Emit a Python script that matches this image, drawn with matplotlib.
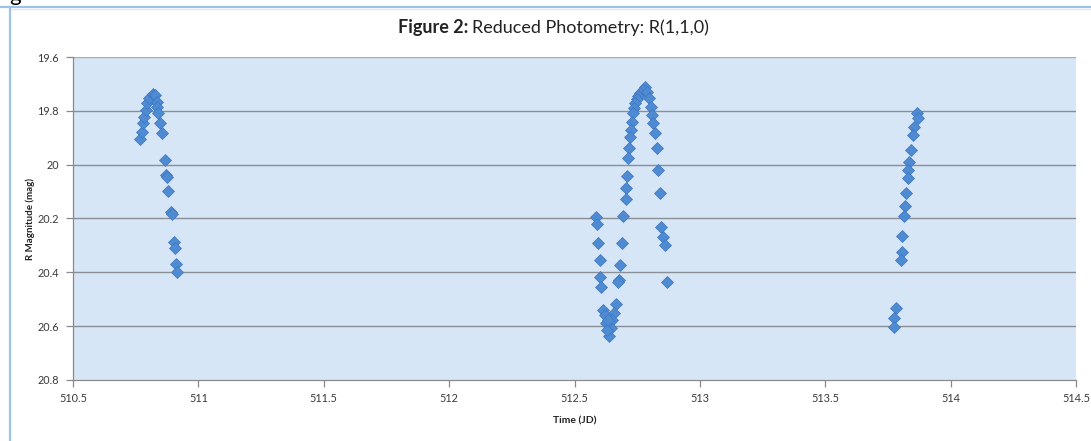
import numpy as np
import matplotlib
matplotlib.use('Agg')
import matplotlib.pyplot as plt

# Reduced photometry R(1,1,0) - time (JD) vs R magnitude
night1_jd = [510.767, 510.774, 510.778, 510.783, 510.791, 510.796, 510.804, 510.818,
             510.827, 510.834, 510.836, 510.840, 510.847, 510.854, 510.867, 510.871,
             510.874, 510.878, 510.890, 510.894, 510.903, 510.907, 510.910, 510.914]
night1_mag = [19.906, 19.877, 19.846, 19.822, 19.797, 19.772, 19.753, 19.737,
              19.741, 19.766, 19.785, 19.809, 19.846, 19.883, 19.983, 20.038,
              20.045, 20.098, 20.175, 20.183, 20.286, 20.311, 20.369, 20.398]

night2_jd = [512.781, 512.772, 512.761, 512.754, 512.748, 512.741, 512.737, 512.734,
             512.728, 512.725, 512.721, 512.718, 512.715,
             512.790, 512.798, 512.804, 512.808, 512.814, 512.821, 512.828, 512.834,
             512.841, 512.844, 512.854, 512.861, 512.868,
             512.710, 512.707, 512.705, 512.694, 512.690, 512.681, 512.678, 512.674,
             512.665, 512.657, 512.651, 512.647, 512.638,
             512.587, 512.590, 512.594, 512.600, 512.603, 512.607, 512.614, 512.620,
             512.624, 512.630, 512.634]
night2_mag = [19.710, 19.723, 19.733, 19.745, 19.757, 19.772, 19.791, 19.809,
              19.840, 19.871, 19.898, 19.939, 19.974,
              19.729, 19.753, 19.785, 19.815, 19.846, 19.881, 19.939, 20.020,
              20.106, 20.230, 20.268, 20.298, 20.435,
              20.042, 20.088, 20.128, 20.191, 20.292, 20.373, 20.428, 20.435,
              20.518, 20.552, 20.577, 20.608, 20.636,
              20.193, 20.220, 20.292, 20.354, 20.416, 20.453, 20.540, 20.558,
              20.589, 20.614, 20.577]

night3_jd = [513.865, 513.871, 513.855, 513.849, 513.841, 513.835, 513.831, 513.829,
             513.822, 513.818, 513.814, 513.807, 513.805, 513.801, 513.782, 513.774,
             513.775]
night3_mag = [19.809, 19.828, 19.859, 19.890, 19.945, 19.989, 20.020, 20.051,
              20.106, 20.153, 20.191, 20.265, 20.323, 20.354, 20.534, 20.571,
              20.602]

xticks = [510.5, 511, 511.5, 512, 512.5, 513, 513.5, 514, 514.5]
xticklabels = ['510.5', '511', '511.5', '512', '512.5', '513', '513.5', '514', '514.5']
yticks = [19.6, 19.8, 20.0, 20.2, 20.4, 20.6, 20.8]
yticklabels = ['19.6', '19.8', '20', '20.2', '20.4', '20.6', '20.8']

plt.rcParams['font.family'] = ['Lato', 'DejaVu Sans']

W, H = 1091, 441
fig = plt.figure(figsize=(W / 100, H / 100), dpi=100)
fig.patch.set_facecolor('white')

# outer document frame (blue line top and left)
fig.add_artist(plt.Line2D([0, 1], [1 - 7 / H, 1 - 7 / H], transform=fig.transFigure,
                          color='#9cc2e6', lw=1.6))
fig.add_artist(plt.Line2D([11 / W, 1], [1 - 9 / H, 1 - 9 / H], transform=fig.transFigure,
                          color='#e6e6e6', lw=1.0))
fig.add_artist(plt.Line2D([10 / W, 10 / W], [0, 1 - 7 / H], transform=fig.transFigure,
                          color='#9cc2e6', lw=1.6))
fig.text(9 / W, 1 + 5 / H, 'g', fontsize=16, va='center', ha='left', color='black')

ax = fig.add_axes([73 / W, 61 / H, 1003 / W, 323 / H])
ax.set_facecolor('#d7e6f6')

all_jd = night1_jd + night2_jd + night3_jd
all_mag = night1_mag + night2_mag + night3_mag
ax.plot(all_jd, all_mag, linestyle='none', marker='D', markersize=6.3,
        markerfacecolor='#4f8bd3', markeredgecolor='#3d76c0', markeredgewidth=0.5,
        zorder=3)

ax.set_xlim(510.5, 514.5)
ax.set_ylim(20.8, 19.6)
ax.set_xticks(xticks)
ax.set_xticklabels(xticklabels)
ax.set_yticks(yticks)
ax.set_yticklabels(yticklabels)
for y in yticks[1:-1]:
    ax.axhline(y, color='#8a8f96', lw=1.0, zorder=1)
ax.axhline(19.6, color='#a9aeb4', lw=1.0, zorder=1)

for s in ['top', 'right']:
    ax.spines[s].set_visible(False)
for s in ['left', 'bottom']:
    ax.spines[s].set_color('#8a8a8a')
    ax.spines[s].set_linewidth(0.9)
ax.tick_params(axis='both', colors='#8a8a8a', length=5, width=0.9, labelsize=7.8,
               labelcolor='#3a3a3a')
ax.tick_params(axis='x', pad=4)
ax.tick_params(axis='y', pad=5)

ax.set_xlabel('Time (JD)', fontsize=7.5, fontweight='bold', color='#222222', labelpad=9)
ax.set_ylabel('R Magnitude (mag)', fontsize=7, fontweight='bold', color='#222222',
              labelpad=2)

# title: bold "Figure 2:" followed by normal text
t1 = fig.text(398 / W, 1 - 28 / H, 'Figure 2:', fontsize=13, fontweight='bold',
              va='center', ha='left', color='#222222')
fig.canvas.draw()
bb = t1.get_window_extent(renderer=fig.canvas.get_renderer())
fig.text(bb.x1 / W + 4 / W, 1 - 28 / H, 'Reduced Photometry: R(1,1,0)', fontsize=13,
         va='center', ha='left', color='#222222')

fig.savefig('out.png', dpi=100)
